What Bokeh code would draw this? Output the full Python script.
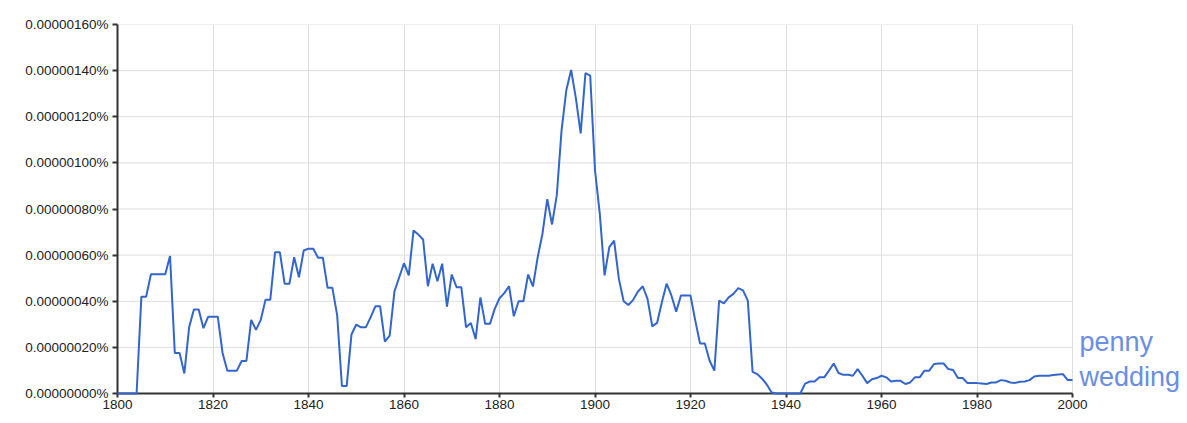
from bokeh.plotting import figure
from bokeh.models import Range1d, ColumnDataSource, FixedTicker
from bokeh.core.properties import value
from bokeh.embed import file_html
from bokeh.resources import INLINE

# Frequency of "penny wedding", in units of 1e-6 percent, 1800..2000
years = list(range(1800, 2001))
freq = [
    # 1800-1809
    0, 0, 0, 0, 0, 0.42, 0.42, 0.517, 0.517, 0.517,
    # 1810-1819
    0.517, 0.596, 0.176, 0.176, 0.087, 0.287, 0.364, 0.364, 0.283, 0.333,
    # 1820-1829
    0.333, 0.333, 0.176, 0.099, 0.099, 0.099, 0.141, 0.141, 0.319, 0.276,
    # 1830-1839
    0.319, 0.407, 0.407, 0.613, 0.613, 0.476, 0.476, 0.591, 0.504, 0.620,
    # 1840-1849
    0.628, 0.628, 0.589, 0.589, 0.458, 0.458, 0.340, 0.033, 0.033, 0.256,
    # 1850-1859
    0.299, 0.287, 0.287, 0.330, 0.378, 0.378, 0.225, 0.251, 0.443, 0.504,
    # 1860-1869
    0.565, 0.512, 0.707, 0.689, 0.668, 0.465, 0.563, 0.487, 0.563, 0.377,
    # 1870-1879
    0.516, 0.461, 0.461, 0.287, 0.306, 0.236, 0.417, 0.302, 0.302, 0.367,
    # 1880-1889
    0.413, 0.435, 0.465, 0.335, 0.400, 0.400, 0.516, 0.464, 0.591, 0.693,
    # 1890-1899
    0.843, 0.733, 0.860, 1.142, 1.316, 1.403, 1.280, 1.128, 1.389, 1.378,
    # 1900-1909
    0.968, 0.780, 0.512, 0.635, 0.663, 0.497, 0.400, 0.384, 0.406, 0.442,
    # 1910-1919
    0.465, 0.410, 0.291, 0.306, 0.396, 0.476, 0.425, 0.355, 0.425, 0.425,
    # 1920-1929
    0.425, 0.316, 0.217, 0.217, 0.142, 0.099, 0.403, 0.391, 0.417, 0.432,
    # 1930-1939
    0.457, 0.447, 0.403, 0.094, 0.084, 0.064, 0.038, 0.004, 0, 0,
    # 1940-1949
    0, 0, 0, 0, 0.043, 0.052, 0.052, 0.070, 0.070, 0.099,
    # 1950-1959
    0.130, 0.089, 0.081, 0.081, 0.077, 0.106, 0.077, 0.045, 0.062, 0.067,
    # 1960-1969
    0.077, 0.070, 0.052, 0.055, 0.055, 0.041, 0.048, 0.070, 0.070, 0.099,
    # 1970-1979
    0.099, 0.128, 0.130, 0.130, 0.106, 0.102, 0.067, 0.067, 0.045, 0.045,
    # 1980-1989
    0.045, 0.043, 0.041, 0.048, 0.048, 0.058, 0.055, 0.048, 0.046, 0.051,
    # 1990-1999
    0.052, 0.058, 0.074, 0.077, 0.077, 0.077, 0.080, 0.082, 0.084, 0.058,
    # 2000
    0.058,
]

series_name = ["penny", "wedding"]

y_ticks = [0, 0.2, 0.4, 0.6, 0.8, 1.0, 1.2, 1.4, 1.6]
y_tick_labels = ["0.00000000%", "0.00000020%", "0.00000040%", "0.00000060%",
                 "0.00000080%", "0.00000100%", "0.00000120%", "0.00000140%",
                 "0.00000160%"]
x_ticks = [1800, 1820, 1840, 1860, 1880, 1900, 1920, 1940, 1960, 1980, 2000]

LINE = "#3366cc"
LABEL = "#6b8de3"
GRID = "#dddddd"
FONT = "Liberation Sans"

X0, X1 = years[0], years[-1]
# extra room to the right of 2000 for the series label (frame runs to the page edge)
X_RIGHT = X1 + (X1 - X0) * (1187 - 1072) / (1072 - 117)

p = figure(width=1187, height=418, output_backend="svg", toolbar_location=None,
           x_range=Range1d(X0, X_RIGHT), y_range=Range1d(y_ticks[0], y_ticks[-1]),
           min_border_left=117, min_border_right=0, min_border_top=24,
           min_border_bottom=25)
p.outline_line_color = None
p.background_fill_color = "white"
p.border_fill_color = "white"

# horizontal grid lines, limited to the data span
p.ygrid.visible = False
p.segment(x0=[X0] * len(y_ticks), x1=[X1] * len(y_ticks), y0=y_ticks, y1=y_ticks,
          line_color=GRID, line_width=1, level="underlay")
p.xgrid.ticker = FixedTicker(ticks=x_ticks)
p.xgrid.grid_line_color = GRID
p.xgrid.grid_line_width = 1

p.yaxis.ticker = FixedTicker(ticks=y_ticks)
p.yaxis.major_label_overrides = {t: l for t, l in zip(y_ticks, y_tick_labels)}
p.xaxis.ticker = FixedTicker(ticks=x_ticks)
p.xaxis.bounds = (X0, X1)

for ax in (p.xaxis, p.yaxis):
    ax.axis_line_color = "#333333"
    ax.axis_line_width = 2
    ax.major_tick_line_color = "#333333"
    ax.major_tick_line_width = 2
    ax.major_tick_out = 5
    ax.major_tick_in = 0
    ax.minor_tick_line_color = None
    ax.major_label_text_font = FONT
    ax.major_label_text_font_size = "13.5px"
    ax.major_label_text_color = "#222222"
p.yaxis.major_label_standoff = 4
p.xaxis.major_label_standoff = 2
p.xaxis.major_tick_out = 4

src = ColumnDataSource(dict(year=years, freq=freq))
p.line("year", "freq", source=src, line_color=LINE, line_width=2, level="overlay")

last = freq[-1]
p.text(x=[X1, X1], y=[last, last], text=series_name, x_offset=7, y_offset=[-38, -3],
       text_color=LABEL, text_font=value(FONT), text_font_size="27px",
       text_baseline="alphabetic", text_align="left")

open("out.html", "w").write(file_html(p, INLINE))
